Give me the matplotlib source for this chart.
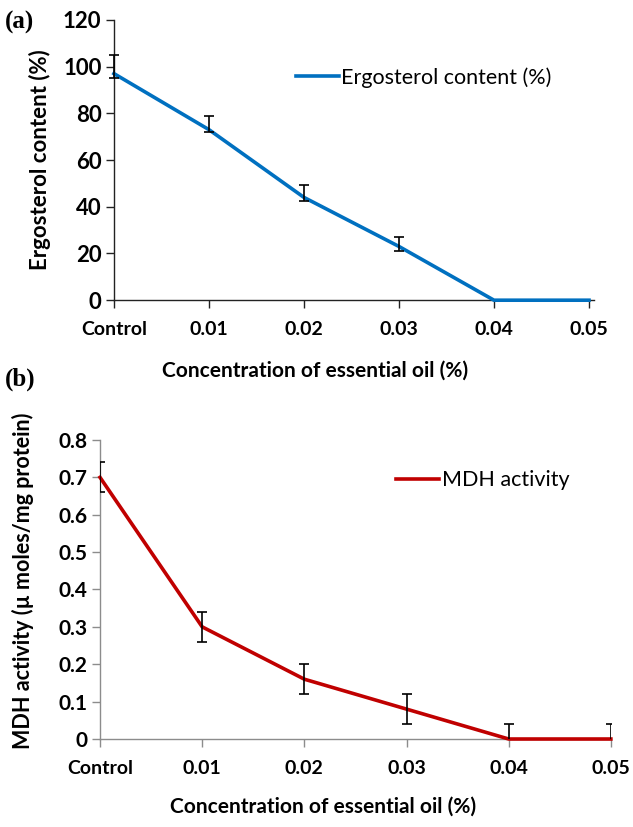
import numpy as np
import matplotlib
matplotlib.use("Agg")
import matplotlib.pyplot as plt

plt.rcParams["font.family"] = ["Lato", "DejaVu Sans"]

categories = ["Control", "0.01", "0.02", "0.03", "0.04", "0.05"]

# (a) ergosterol content (%)
ergosterol = [97, 73, 44, 23, 0, 0]
ergo_err_lo = [2, 1, 1.5, 2, np.nan, np.nan]
ergo_err_hi = [8, 6, 5.5, 4, np.nan, np.nan]

# (b) MDH activity (µ moles/mg protein)
mdh = [0.70, 0.30, 0.16, 0.08, 0.0, 0.0]
mdh_err = [0.04, 0.04, 0.04, 0.04, 0.04, 0.04]

BLUE = "#0070C0"
RED = "#C00000"

fig = plt.figure(figsize=(6.33, 8.27), dpi=100)
axA = fig.add_axes([0.180, 0.637, 0.758, 0.339])
axB = fig.add_axes([0.158, 0.1064, 0.807, 0.3616])

x = np.arange(len(categories))


def style_axis(ax, col, ysize):
    for s in ["top", "right"]:
        ax.spines[s].set_visible(False)
    for s in ["left", "bottom"]:
        ax.spines[s].set_color(col)
        ax.spines[s].set_linewidth(1.0)
    ax.tick_params(axis="both", direction="out", length=6, width=1.0, color=col)
    ax.tick_params(axis="x", labelsize=14, pad=9)
    ax.tick_params(axis="y", labelsize=ysize, pad=3)
    for lab in ax.get_xticklabels() + ax.get_yticklabels():
        lab.set_fontweight("bold")


# ---- (a) ----
axA.plot(x, ergosterol, color=BLUE, lw=2.6, clip_on=False, zorder=3,
         label="Ergosterol content (%)")
m = ~np.isnan(ergo_err_lo)
axA.errorbar(x[m], np.array(ergosterol)[m],
             yerr=[np.array(ergo_err_lo)[m], np.array(ergo_err_hi)[m]],
             fmt="none", ecolor="black", elinewidth=1.2, capsize=3.5, capthick=1.2,
             zorder=4, clip_on=False)
axA.set_xlim(0, 5.05)
axA.set_ylim(0, 120)
axA.set_yticks(np.arange(0, 121, 20))
axA.set_xticks(x)
axA.set_xticklabels(categories)
axA.set_ylabel("Ergosterol content (%)", fontsize=16, fontweight="bold")
axA.set_xlabel("Concentration of essential oil (%)", fontsize=15, fontweight="bold")
axA.yaxis.set_label_coords(-0.154, 0.5)
axA.yaxis.label.set_va("center")
axA.xaxis.set_label_coords(0.42, -0.25)
axA.xaxis.label.set_va("center")
style_axis(axA, "#222222", 16)
axA.legend(loc="center left", bbox_to_anchor=(0.38, 0.795), frameon=False, fontsize=15.5,
           handlelength=2.0, handletextpad=0.1, borderaxespad=0, borderpad=0)

# ---- (b) ----
axB.plot(x, mdh, color=RED, lw=2.6, clip_on=False, zorder=3, label="MDH activity")
axB.errorbar(x, mdh, yerr=mdh_err, fmt="none", ecolor="black", elinewidth=1.2,
             capsize=3.5, capthick=1.2, zorder=4)
axB.set_xlim(0, 5)
axB.set_ylim(0, 0.8)
axB.set_yticks(np.round(np.arange(0, 0.81, 0.1), 1))
axB.set_yticklabels(["0"] + [f"{v:.1f}" for v in np.arange(0.1, 0.81, 0.1)])
axB.set_xticks(x)
axB.set_xticklabels(categories)
axB.set_ylabel("MDH activity (\u00b5 moles/mg protein)", fontsize=15.5, fontweight="bold")
axB.set_xlabel("Concentration of essential oil (%)", fontsize=15, fontweight="bold")
axB.yaxis.set_label_coords(-0.151, 0.53)
axB.yaxis.label.set_va("center")
axB.xaxis.set_label_coords(0.436, -0.227)
axB.xaxis.label.set_va("center")
style_axis(axB, "#8c8c8c", 15)
axB.legend(loc="center left", bbox_to_anchor=(0.58, 0.866), frameon=False, fontsize=15.5,
           handlelength=2.0, handletextpad=0.1, borderaxespad=0, borderpad=0)

fig.text(0.008, 0.973, "(a)", fontsize=18, fontweight="bold", family="Liberation Serif",
         va="center", ha="left")
fig.text(0.008, 0.541, "(b)", fontsize=18, fontweight="bold", family="Liberation Serif",
         va="center", ha="left")

fig.savefig("out.png", dpi=100)
